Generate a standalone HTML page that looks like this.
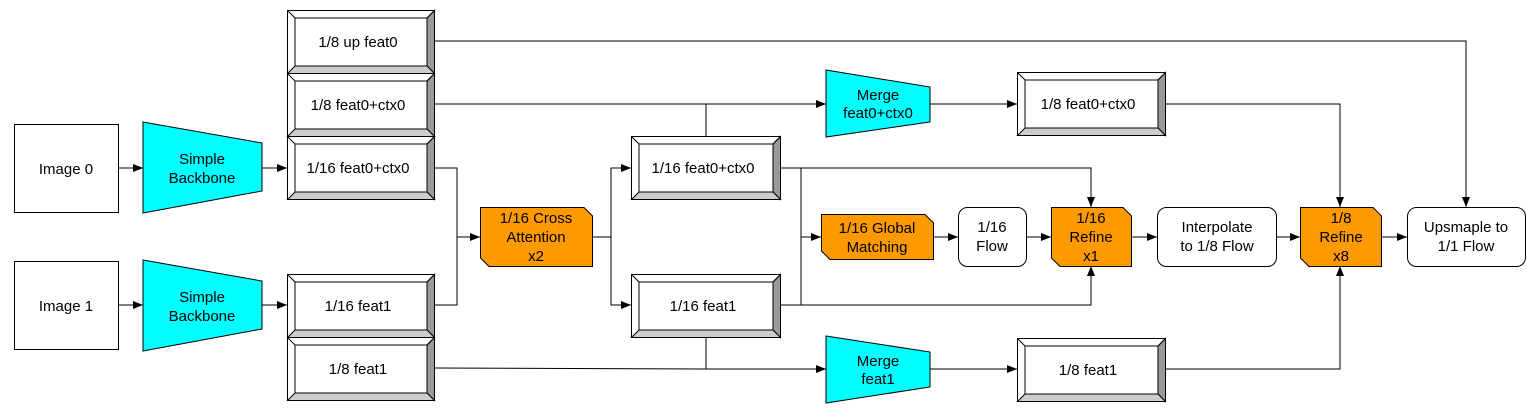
<!DOCTYPE html>
<html><head><meta charset="utf-8"><style>
html,body{margin:0;padding:0;background:#fff}
svg{display:block}
text{font-family:"Liberation Sans",sans-serif;font-size:15px;fill:#000;text-anchor:middle}
</style></head><body>
<svg width="1535" height="410" viewBox="0 0 1535 410" xmlns="http://www.w3.org/2000/svg">
<defs>
<marker id="a" markerWidth="10" markerHeight="8" refX="10" refY="4" orient="auto" markerUnits="userSpaceOnUse">
<path d="M0,0 L10,4 L0,8 z" fill="#000"/></marker>
</defs>
<g stroke="#000" stroke-width="1" fill="none">
<path d="M118,168 H143" marker-end="url(#a)"/>
<path d="M262,168 H287" marker-end="url(#a)"/>
<path d="M118,305 H143" marker-end="url(#a)"/>
<path d="M262,305 H287" marker-end="url(#a)"/>
<path d="M434,168 H457 V237 H480" marker-end="url(#a)"/>
<path d="M434,305 H457 V237"/>
<path d="M592,237 H611 V168 H631" marker-end="url(#a)"/>
<path d="M611,237 V305 H631" marker-end="url(#a)"/>
<path d="M434,41 H1466 V207" marker-end="url(#a)"/>
<path d="M434,104 H826" marker-end="url(#a)"/>
<path d="M706,136 V104"/>
<path d="M930,104 H1017" marker-end="url(#a)"/>
<path d="M1165,104 H1340 V207" marker-end="url(#a)"/>
<path d="M780,168 H1091 V207" marker-end="url(#a)"/>
<path d="M801,168 V305"/>
<path d="M801,237 H821" marker-end="url(#a)"/>
<path d="M780,305 H1091 V266" marker-end="url(#a)"/>
<path d="M706,337 V369 H826" marker-end="url(#a)"/>
<path d="M434,368 L706,369"/>
<path d="M930,369 H1017" marker-end="url(#a)"/>
<path d="M1165,369 H1340 V266" marker-end="url(#a)"/>
<path d="M933,237 H958" marker-end="url(#a)"/>
<path d="M1026,237 H1051" marker-end="url(#a)"/>
<path d="M1131,237 H1157" marker-end="url(#a)"/>
<path d="M1276,237 H1300" marker-end="url(#a)"/>
<path d="M1381,237 H1407" marker-end="url(#a)"/>
</g>

<rect x="14.5" y="124.5" width="104" height="88" fill="#fff" stroke="#000"/>
<text x="66" y="174">Image 0</text>
<rect x="14.5" y="261.5" width="104" height="88" fill="#fff" stroke="#000"/>
<text x="66" y="311">Image 1</text>

<polygon points="143,122 262,143 262,191 143,213" fill="#00ffff" stroke="#000"/>
<text x="202" y="164">Simple</text><text x="202" y="183">Backbone</text>
<polygon points="143,260 262,281 262,329 143,351" fill="#00ffff" stroke="#000"/>
<text x="202" y="302">Simple</text><text x="202" y="321">Backbone</text>

<g stroke="#000" stroke-width="1">
<g transform="translate(287,10)">
<rect x="0.5" y="0.5" width="147" height="63" fill="#fff"/>
<polygon points="147.5,0.5 147.5,63.5 140,56 140,8" fill="#999"/>
<polygon points="0.5,63.5 147.5,63.5 140,56 8,56" fill="#ccc"/>
<rect x="8" y="8" width="132" height="48" fill="#fff"/>
<line x1="0.5" y1="0.5" x2="8" y2="8"/><line x1="147.5" y1="0.5" x2="140" y2="8"/>
</g>
<g transform="translate(287,73)">
<rect x="0.5" y="0.5" width="147" height="63" fill="#fff"/>
<polygon points="147.5,0.5 147.5,63.5 140,56 140,8" fill="#999"/>
<polygon points="0.5,63.5 147.5,63.5 140,56 8,56" fill="#ccc"/>
<rect x="8" y="8" width="132" height="48" fill="#fff"/>
<line x1="0.5" y1="0.5" x2="8" y2="8"/><line x1="147.5" y1="0.5" x2="140" y2="8"/>
</g>
<g transform="translate(287,136)">
<rect x="0.5" y="0.5" width="147" height="63" fill="#fff"/>
<polygon points="147.5,0.5 147.5,63.5 140,56 140,8" fill="#999"/>
<polygon points="0.5,63.5 147.5,63.5 140,56 8,56" fill="#ccc"/>
<rect x="8" y="8" width="132" height="48" fill="#fff"/>
<line x1="0.5" y1="0.5" x2="8" y2="8"/><line x1="147.5" y1="0.5" x2="140" y2="8"/>
</g>
<g transform="translate(287,274)">
<rect x="0.5" y="0.5" width="147" height="63" fill="#fff"/>
<polygon points="147.5,0.5 147.5,63.5 140,56 140,8" fill="#999"/>
<polygon points="0.5,63.5 147.5,63.5 140,56 8,56" fill="#ccc"/>
<rect x="8" y="8" width="132" height="48" fill="#fff"/>
<line x1="0.5" y1="0.5" x2="8" y2="8"/><line x1="147.5" y1="0.5" x2="140" y2="8"/>
</g>
<g transform="translate(287,337)">
<rect x="0.5" y="0.5" width="147" height="63" fill="#fff"/>
<polygon points="147.5,0.5 147.5,63.5 140,56 140,8" fill="#999"/>
<polygon points="0.5,63.5 147.5,63.5 140,56 8,56" fill="#ccc"/>
<rect x="8" y="8" width="132" height="48" fill="#fff"/>
<line x1="0.5" y1="0.5" x2="8" y2="8"/><line x1="147.5" y1="0.5" x2="140" y2="8"/>
</g>
<g transform="translate(631,136)">
<rect x="0.5" y="0.5" width="149" height="63" fill="#fff"/>
<polygon points="149.5,0.5 149.5,63.5 142,56 142,8" fill="#999"/>
<polygon points="0.5,63.5 149.5,63.5 142,56 8,56" fill="#ccc"/>
<rect x="8" y="8" width="134" height="48" fill="#fff"/>
<line x1="0.5" y1="0.5" x2="8" y2="8"/><line x1="149.5" y1="0.5" x2="142" y2="8"/>
</g>
<g transform="translate(631,274)">
<rect x="0.5" y="0.5" width="149" height="63" fill="#fff"/>
<polygon points="149.5,0.5 149.5,63.5 142,56 142,8" fill="#999"/>
<polygon points="0.5,63.5 149.5,63.5 142,56 8,56" fill="#ccc"/>
<rect x="8" y="8" width="134" height="48" fill="#fff"/>
<line x1="0.5" y1="0.5" x2="8" y2="8"/><line x1="149.5" y1="0.5" x2="142" y2="8"/>
</g>
<g transform="translate(1017,72)">
<rect x="0.5" y="0.5" width="148" height="63" fill="#fff"/>
<polygon points="148.5,0.5 148.5,63.5 141,56 141,8" fill="#999"/>
<polygon points="0.5,63.5 148.5,63.5 141,56 8,56" fill="#ccc"/>
<rect x="8" y="8" width="133" height="48" fill="#fff"/>
<line x1="0.5" y1="0.5" x2="8" y2="8"/><line x1="148.5" y1="0.5" x2="141" y2="8"/>
</g>
<g transform="translate(1017,338)">
<rect x="0.5" y="0.5" width="148" height="63" fill="#fff"/>
<polygon points="148.5,0.5 148.5,63.5 141,56 141,8" fill="#999"/>
<polygon points="0.5,63.5 148.5,63.5 141,56 8,56" fill="#ccc"/>
<rect x="8" y="8" width="133" height="48" fill="#fff"/>
<line x1="0.5" y1="0.5" x2="8" y2="8"/><line x1="148.5" y1="0.5" x2="141" y2="8"/>
</g>
</g>
<text x="358" y="47">1/8 up feat0</text>
<text x="358" y="110">1/8 feat0+ctx0</text>
<text x="358" y="173">1/16 feat0+ctx0</text>
<text x="358" y="311">1/16 feat1</text>
<text x="358" y="374">1/8 feat1</text>
<text x="703" y="173">1/16 feat0+ctx0</text>
<text x="703" y="311">1/16 feat1</text>
<text x="1088" y="109">1/8 feat0+ctx0</text>
<text x="1088" y="375">1/8 feat1</text>

<polygon points="826,70 930,87 930,122 826,137" fill="#00ffff" stroke="#000"/>
<text x="878" y="100">Merge</text><text x="878" y="118">feat0+ctx0</text>
<polygon points="826,336 930,352 930,387 826,403" fill="#00ffff" stroke="#000"/>
<text x="878" y="366">Merge</text><text x="878" y="384">feat1</text>

<polygon points="480.5,207.5 584,207.5 592.5,216 592.5,266.5 489,266.5 480.5,258" fill="#ff9900" stroke="#000"/>
<text x="536" y="223">1/16 Cross</text><text x="536" y="242">Attention</text><text x="536" y="261">x2</text>
<polygon points="821.5,214.5 925,214.5 933.5,223 933.5,259.5 830,259.5 821.5,251" fill="#ff9900" stroke="#000"/>
<text x="877" y="233">1/16 Global</text><text x="877" y="252">Matching</text>
<polygon points="1051.5,207.5 1123,207.5 1131.5,216 1131.5,266.5 1060,266.5 1051.5,258" fill="#ff9900" stroke="#000"/>
<text x="1091" y="223">1/16</text><text x="1091" y="242">Refine</text><text x="1091" y="261">x1</text>
<polygon points="1300.5,207.5 1373,207.5 1381.5,216 1381.5,266.5 1309,266.5 1300.5,258" fill="#ff9900" stroke="#000"/>
<text x="1341" y="223">1/8</text><text x="1341" y="242">Refine</text><text x="1341" y="261">x8</text>

<rect x="958.5" y="207.5" width="68" height="59" rx="9" fill="#fff" stroke="#000"/>
<text x="992" y="232">1/16</text><text x="992" y="251">Flow</text>
<rect x="1157.5" y="207.5" width="119" height="59" rx="9" fill="#fff" stroke="#000"/>
<text x="1217" y="232">Interpolate</text><text x="1217" y="251">to 1/8 Flow</text>
<rect x="1407.5" y="207.5" width="118" height="59" rx="9" fill="#fff" stroke="#000"/>
<text x="1466" y="232">Upsmaple to</text><text x="1466" y="251">1/1 Flow</text>
</svg>
</body></html>
